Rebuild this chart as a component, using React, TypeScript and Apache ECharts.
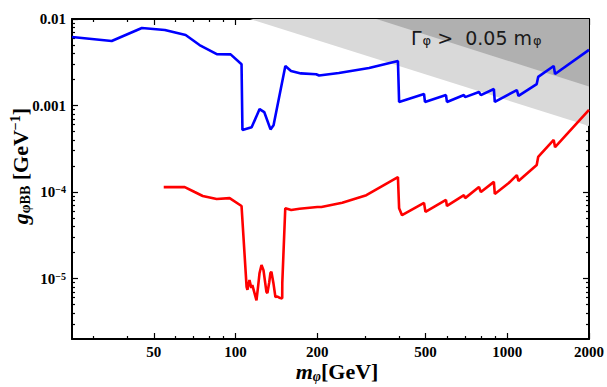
import React, { useEffect, useRef } from 'react';
import * as echarts from 'echarts';

// ---- data (mass in GeV, coupling in GeV^-1) ----
const blueMass = [25, 35, 45.2, 54.9, 65.5, 73.7, 85.3, 95.9, 105.2, 106, 114.6, 122.6, 127.5, 134.5, 138, 152.5, 160, 174, 198, 203, 240, 310, 396, 400, 494, 498, 595, 600, 693, 700, 787, 800, 893, 900, 1085, 1100, 1284, 1300, 1483, 1500, 2000];
const blueCoupling = [6.2e-3, 5.57e-3, 7.87e-3, 7.47e-3, 6.53e-3, 5.0e-3, 3.93e-3, 3.9e-3, 3.0e-3, 5.2e-4, 5.6e-4, 9.1e-4, 8.4e-4, 5.3e-4, 5.9e-4, 2.86e-3, 2.5e-3, 2.35e-3, 2.3e-3, 2.22e-3, 2.38e-3, 2.72e-3, 3.27e-3, 1.1e-3, 1.36e-3, 1.1e-3, 1.32e-3, 1.1e-3, 1.32e-3, 1.25e-3, 1.43e-3, 1.32e-3, 1.55e-3, 1.1e-3, 1.51e-3, 1.29e-3, 1.77e-3, 2.14e-3, 2.86e-3, 2.31e-3, 4.4e-3];

const redMass = [54.4, 65, 70.7, 75.7, 85.2, 95.1, 105.2, 109.8, 110.6, 112.5, 114.3, 115.3, 119.4, 121, 122.5, 124.6, 126.7, 129.9, 131, 133, 134.4, 135.5, 137.8, 140.2, 142.5, 144.9, 148.5, 148.6, 152.4, 160.3, 171.9, 200, 207, 247, 303, 396, 400, 410, 494, 500, 595, 600, 693, 700, 787, 800, 893, 900, 1013, 1085, 1100, 1284, 1300, 1483, 1500, 2000];
const redCoupling = [1.14e-4, 1.14e-4, 1.0e-4, 9.0e-5, 8.3e-5, 8.5e-5, 6.9e-5, 8.0e-6, 7.4e-6, 9.6e-6, 7.8e-6, 8.4e-6, 5.6e-6, 8.0e-6, 1.15e-5, 1.43e-5, 1.25e-5, 7.0e-6, 6.8e-6, 9.0e-6, 1.16e-5, 1.2e-5, 8.9e-6, 6.1e-6, 6.2e-6, 6.0e-6, 5.9e-6, 8.9e-6, 6.5e-5, 6.2e-5, 6.4e-5, 6.7e-5, 6.7e-5, 7.5e-5, 9.2e-5, 1.49e-4, 6.5e-5, 5.4e-5, 7.5e-5, 5.9e-5, 8.1e-5, 6.9e-5, 9.2e-5, 8.5e-5, 1.14e-4, 1.0e-4, 1.31e-4, 9.5e-5, 1.27e-4, 1.57e-4, 1.34e-4, 2.05e-4, 2.54e-4, 4.0e-4, 3.3e-4, 8.9e-4];

// width-exclusion bands (boundaries)
const lightBandMass = [113, 2000];
const lightBandCoupling = [0.01, 5.8e-4];
const darkBandMass = [330, 2000];
const darkBandCoupling = [0.01, 1.66e-3];

// axes
const xRange = [25, 2000];
const yRange = [2e-6, 0.01];
const xMajorTicks = [50, 100, 200, 500, 1000, 2000];
const xTickLabels = ['50', '100', '200', '500', '1000', '2000'];
const xMinorTicks = [30, 40, 60, 70, 80, 90, 300, 400, 600, 700, 800, 900];
const yMajorTicks = [0.01, 0.001, 1e-4, 1e-5];
const yTickLabels = ['0.01', '0.001', '10{sup|−4}', '10{sup|−5}'];
const yMinorTicks = [
  3e-6, 4e-6, 5e-6, 6e-6, 7e-6, 8e-6, 9e-6,
  2e-5, 3e-5, 4e-5, 5e-5, 6e-5, 7e-5, 8e-5, 9e-5,
  2e-4, 3e-4, 4e-4, 5e-4, 6e-4, 7e-4, 8e-4, 9e-4,
  2e-3, 3e-3, 4e-3, 5e-3, 6e-3, 7e-3, 8e-3, 9e-3,
];

const lg = (v: number) => Math.log10(v);
const SERIF = '"Liberation Serif", "Times New Roman", serif';

function nearestLabel(v: number, ticks: number[], labels: string[]) {
  let best = 0;
  let bd = Infinity;
  ticks.forEach((t, i) => {
    const d = Math.abs(lg(t) - v);
    if (d < bd) { bd = d; best = i; }
  });
  return labels[best];
}

export default function App() {
  const ref = useRef<HTMLDivElement>(null);
  useEffect(() => {
    if (!ref.current) return;
    const chart = echarts.init(ref.current, undefined, { renderer: 'svg' });

    const axisLineStyle = { show: true, onZero: false, lineStyle: { color: '#000', width: 2 } };
    const tickStyle = { color: '#000', width: 1.2 };

    const makeX = (position: 'top' | 'bottom', major: boolean, labels: boolean) => ({
      type: 'value',
      position,
      min: lg(xRange[0]),
      max: lg(xRange[1]),
      splitLine: { show: false },
      axisLine: major ? axisLineStyle : { show: false },
      axisTick: {
        show: true,
        inside: true,
        length: major ? 6 : 3,
        customValues: (major ? xMajorTicks : xMinorTicks).map(lg),
        lineStyle: tickStyle,
      },
      axisLabel: labels
        ? {
            show: true,
            customValues: xMajorTicks.map(lg),
            formatter: (v: number) => nearestLabel(v, xMajorTicks, xTickLabels),
            fontFamily: SERIF,
            fontWeight: 'bold',
            fontSize: 15,
            color: '#000',
            margin: 5,
          }
        : { show: false },
    });

    const makeY = (position: 'left' | 'right', major: boolean, labels: boolean) => ({
      type: 'value',
      position,
      min: lg(yRange[0]),
      max: lg(yRange[1]),
      splitLine: { show: false },
      axisLine: major ? axisLineStyle : { show: false },
      axisTick: {
        show: true,
        inside: true,
        length: major ? 6 : 3,
        customValues: (major ? yMajorTicks : yMinorTicks).map(lg),
        lineStyle: tickStyle,
      },
      axisLabel: labels
        ? {
            show: true,
            customValues: yMajorTicks.map(lg),
            formatter: (v: number) => nearestLabel(v, yMajorTicks, yTickLabels),
            fontFamily: SERIF,
            fontWeight: 'bold',
            fontSize: 15,
            color: '#000',
            margin: 6,
            rich: {
              sup: { fontFamily: SERIF, fontWeight: 'bold', fontSize: 10, verticalAlign: 'top', lineHeight: 10, color: '#000' },
            },
          }
        : { show: false },
    });

    const toPairs = (ms: number[], gs: number[]) => ms.map((m, i) => [lg(m), lg(gs[i])]);

    chart.setOption({
      animation: false,
      backgroundColor: '#fff',
      grid: { left: 72, right: 16, top: 19, bottom: 48, containLabel: false },
      xAxis: [
        makeX('bottom', true, true),
        makeX('bottom', false, false),
        makeX('top', true, false),
        makeX('top', false, false),
      ],
      yAxis: [
        makeY('left', true, true),
        makeY('left', false, false),
        makeY('right', true, false),
        makeY('right', false, false),
      ],
      series: [
        {
          name: 'light band',
          type: 'line',
          data: toPairs(lightBandMass, lightBandCoupling),
          symbol: 'none',
          silent: true,
          lineStyle: { width: 0 },
          areaStyle: { origin: 'end', color: '#d9d9d9', opacity: 1 },
          z: 1,
        },
        {
          name: 'dark band',
          type: 'line',
          data: toPairs(darkBandMass, darkBandCoupling),
          symbol: 'none',
          silent: true,
          lineStyle: { width: 0 },
          areaStyle: { origin: 'end', color: '#b0b0b0', opacity: 1 },
          z: 2,
        },
        {
          name: 'blue',
          type: 'line',
          data: toPairs(blueMass, blueCoupling),
          symbol: 'none',
          lineStyle: { color: '#0000ff', width: 2.6 },
          z: 3,
        },
        {
          name: 'red',
          type: 'line',
          data: toPairs(redMass, redCoupling),
          symbol: 'none',
          lineStyle: { color: '#ff0000', width: 2.6 },
          z: 3,
        },
      ],
      graphic: [
        {
          type: 'text',
          left: 411,
          top: 28,
          z: 10,
          style: {
            text: 'Γ{sub|φ} >  0.05 m{sub|φ}',
            fontFamily: '"DejaVu Sans", sans-serif',
            fontSize: 19,
            fill: '#1a1a1a',
            rich: {
              sub: { fontFamily: '"DejaVu Sans", sans-serif', fontSize: 13, verticalAlign: 'bottom', lineHeight: 12, padding: [0, 0, 0, 1], fill: '#1a1a1a' },
            },
          },
        },
        {
          type: 'text',
          x: 20,
          y: 166,
          rotation: Math.PI / 2,
          z: 10,
          style: {
            text: '{g|g}{sub|φBB}{t| [GeV}{sup|−1}{t|]}',
            align: 'center',
            verticalAlign: 'middle',
            fill: '#000',
            rich: {
              g: { fontFamily: SERIF, fontWeight: 'bold', fontStyle: 'italic', fontSize: 22, lineHeight: 24, verticalAlign: 'middle' },
              sub: { fontFamily: SERIF, fontWeight: 'bold', fontSize: 14, lineHeight: 10, verticalAlign: 'bottom' },
              t: { fontFamily: SERIF, fontWeight: 'bold', fontSize: 22, lineHeight: 24, verticalAlign: 'middle' },
              sup: { fontFamily: SERIF, fontWeight: 'bold', fontSize: 14, lineHeight: 10, verticalAlign: 'top' },
            },
          },
        },
        {
          type: 'text',
          x: 337,
          y: 371,
          z: 10,
          style: {
            text: '{m|m}{sub|φ}{t|[GeV]}',
            align: 'center',
            verticalAlign: 'middle',
            fill: '#000',
            rich: {
              m: { fontFamily: SERIF, fontWeight: 'bold', fontStyle: 'italic', fontSize: 22, lineHeight: 24, verticalAlign: 'middle' },
              sub: { fontFamily: SERIF, fontWeight: 'bold', fontStyle: 'italic', fontSize: 14, lineHeight: 10, verticalAlign: 'bottom' },
              t: { fontFamily: SERIF, fontWeight: 'bold', fontSize: 22, lineHeight: 24, verticalAlign: 'middle' },
            },
          },
        },
      ],
    });
    return () => chart.dispose();
  }, []);
  return <div ref={ref} style={{ width: 607, height: 387, position: 'absolute', left: 0, top: 0 }} />;
}
